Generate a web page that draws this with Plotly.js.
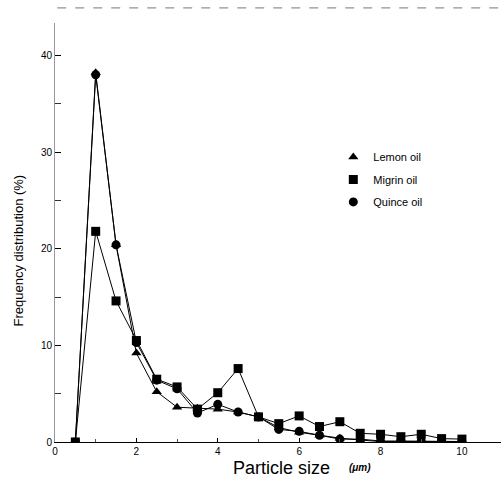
<!DOCTYPE html>
<html>
<head>
<meta charset="utf-8">
<script src="https://cdn.plot.ly/plotly-3.0.1.min.js"></script>
<style>html,body{margin:0;padding:0;background:#fff;}#chart{width:501px;height:481px;}</style>
</head>
<body>
<div id="chart"></div>
<script>
const particleSize = [0.5, 1, 1.5, 2, 2.5, 3, 3.5, 4, 4.5, 5, 5.5, 6, 6.5, 7, 7.5, 8, 8.5, 9, 9.5, 10];
const lemonOil  = [0, 38.2, 20.4, 9.2, 5.2, 3.6, 3.5, 3.4, 3.1, 2.6, 1.5, 1.0, 0.7, 0.4, 0.2, 0.05, 0.05, 0.05, 0.05, 0.05];
const migrinOil = [0, 21.8, 14.6, 10.5, 6.5, 5.7, 3.4, 5.1, 7.6, 2.6, 1.9, 2.7, 1.6, 2.1, 0.9, 0.8, 0.55, 0.8, 0.35, 0.3];
const quinceOil = [0, 38, 20.4, 10.3, 6.4, 5.5, 3.0, 3.9, 3.1, 2.6, 1.3, 1.1, 0.7, 0.3, 0.3, 0.1, 0.1, 0.1, 0.05, 0.05];
const seriesNames = ["Lemon oil", "Migrin oil", "Quince oil"];
const xTickVals = [0, 2, 4, 6, 8, 10];
const yTickVals = [0, 10, 20, 30, 40];

const seriesY = [lemonOil, migrinOil, quinceOil];
const symbols = ['triangle-up', 'square', 'circle'];
const sizes = [9, 9, 9];

const traces = [];
seriesY.forEach((ys, i) => {
  traces.push({type: 'scatter', mode: 'lines', x: particleSize, y: ys, name: seriesNames[i],
    legendgroup: 'g' + i, showlegend: false, line: {color: '#000', width: 1}});
});
seriesY.forEach((ys, i) => {
  traces.push({type: 'scatter', mode: 'markers', x: particleSize, y: ys, name: seriesNames[i],
    legendgroup: 'g' + i, showlegend: true,
    marker: {symbol: symbols[i], size: sizes[i], color: '#000'}});
});

const layout = {
  width: 501, height: 481,
  margin: {l: 55, r: 0, t: 23, b: 39},
  paper_bgcolor: '#fff', plot_bgcolor: '#fff',
  font: {family: 'Liberation Sans, Arial, sans-serif', color: '#000'},
  showlegend: true,
  legend: {x: 0.624, y: 0.715, xanchor: 'left', yanchor: 'top', bgcolor: 'rgba(0,0,0,0)',
    font: {size: 11, color: '#000'}, itemwidth: 30, tracegroupgap: 3.5, traceorder: 'grouped'},
  xaxis: {range: [0, 10.96], tickvals: xTickVals, ticktext: xTickVals.map(String),
    ticks: 'inside', ticklen: 4, tickcolor: '#000', showgrid: false, zeroline: false,
    showline: true, linecolor: '#000', linewidth: 1,
    minor: {dtick: 1, tick0: 0, ticks: 'inside', ticklen: 3, tickcolor: '#555'},
    tickfont: {size: 10, family: 'Liberation Sans, Arial, sans-serif'}},
  yaxis: {range: [0, 43.36], tickvals: yTickVals, ticktext: yTickVals.map(String),
    ticks: 'inside', ticklen: 6, tickcolor: '#000', showgrid: false, zeroline: false,
    showline: true, linecolor: '#999', linewidth: 1,
    minor: {dtick: 5, tick0: 0, ticks: 'inside', ticklen: 6, tickcolor: '#333'},
    tickfont: {size: 10, family: 'Liberation Sans, Arial, sans-serif'}},
  annotations: [
    {text: 'Frequency distribution (%)', textangle: -90, xref: 'paper', yref: 'paper',
     x: -0.082, y: 0.458, xanchor: 'center', yanchor: 'middle', showarrow: false,
     font: {size: 13, color: '#000'}},
    {text: 'Particle size', xref: 'paper', yref: 'paper', x: 0.507, y: -0.062,
     xanchor: 'center', yanchor: 'middle', showarrow: false, font: {size: 18, color: '#000'}},
    {text: '<b><i>(μm)</i></b>', xref: 'paper', yref: 'paper', x: 0.684, y: -0.062,
     xanchor: 'center', yanchor: 'middle', showarrow: false, font: {size: 10, color: '#000'}}
  ],
  shapes: [{type: 'line', xref: 'paper', yref: 'paper', x0: 0.005, x1: 1, y0: 1.036, y1: 1.036,
    line: {color: '#777', width: 1, dash: 'dash'}}]
};

Plotly.newPlot('chart', traces, layout, {displayModeBar: false, staticPlot: true});
</script>
</body>
</html>
